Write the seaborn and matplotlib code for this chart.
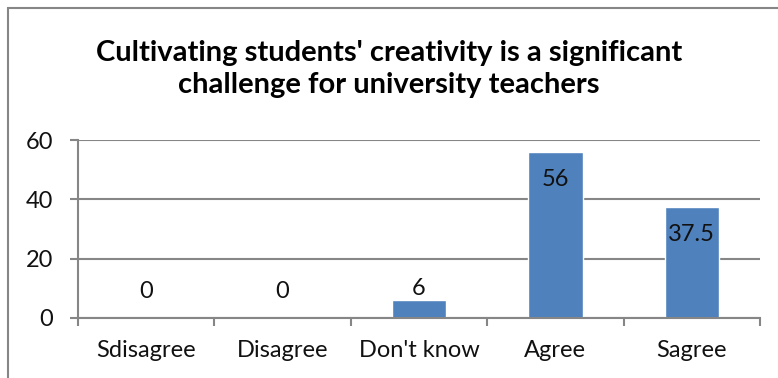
import matplotlib
matplotlib.use("Agg")
import matplotlib.pyplot as plt
from matplotlib.patches import Rectangle
from matplotlib.ticker import FixedLocator
import seaborn as sns
import pandas as pd

categories = ["Sdisagree", "Disagree", "Don't know", "Agree", "Sagree"]
values = [0, 0, 6, 56, 37.5]
value_labels = ["0", "0", "6", "56", "37.5"]
y_ticks = [0, 20, 40, 60]
title = "Cultivating students' creativity is a significant\nchallenge for university teachers"

sns.set_theme(style="white")
plt.rcParams["font.family"] = ["Lato", "DejaVu Sans"]

W, H = 778, 378
fig = plt.figure(figsize=(W / 100, H / 100), dpi=100)
ax = fig.add_axes([78 / W, 60 / H, (760 - 78) / W, (318 - 140) / H])

df = pd.DataFrame({"category": categories, "value": values})
sns.barplot(data=df, x="category", y="value", color="#4F81BD", saturation=1,
            width=0.4, ax=ax, zorder=3)

grid_col = "#868686"
ax.set_ylim(0, 60)
ax.set_xlim(-0.5, len(categories) - 0.5)
ax.set_yticks(y_ticks)
ax.yaxis.grid(True, color=grid_col, linewidth=1.5, zorder=0)
ax.set_axisbelow(True)
for s in ("top", "right"):
    ax.spines[s].set_visible(False)
for s in ("left", "bottom"):
    ax.spines[s].set_color(grid_col)
    ax.spines[s].set_linewidth(1.5)
ax.spines["bottom"].set_zorder(4)

ax.set_xlabel("")
ax.set_ylabel("")
ax.tick_params(axis="y", which="major", left=True, length=6, width=1.5,
               color=grid_col, labelsize=17, pad=12, labelcolor="#111111")
ax.tick_params(axis="x", which="major", bottom=False, length=0, labelsize=17,
               pad=16, labelcolor="#111111")
ax.xaxis.set_minor_locator(FixedLocator([i - 0.5 for i in range(len(categories) + 1)]))
ax.tick_params(axis="x", which="minor", bottom=True, length=6, width=1.5, color=grid_col)

# value labels: inside the end of tall bars, above short ones
px_per_unit = (318 - 140) / 60
for i, (v, lab) in enumerate(zip(values, value_labels)):
    if v >= 20:
        off = -28
    else:
        off = max(12, 27 - v * px_per_unit)
    ax.annotate(lab, xy=(i, v), xytext=(0, off * 0.72), textcoords="offset points",
                ha="center", va="center", fontsize=17, color="#111111", zorder=5)

fig.text(0.5, 1 - 69 / H, title, ha="center", va="center", fontsize=21,
         fontweight="bold", linespacing=1.3,
         family=["Lato", "DejaVu Sans"], color="#000000")

# chart frame
fig.patches.append(Rectangle((8 / W, -0.2), 1.5, 1.2 - 8 / H, transform=fig.transFigure,
                             fill=False, edgecolor=grid_col, linewidth=1.5))

fig.savefig("out.png", dpi=100)
